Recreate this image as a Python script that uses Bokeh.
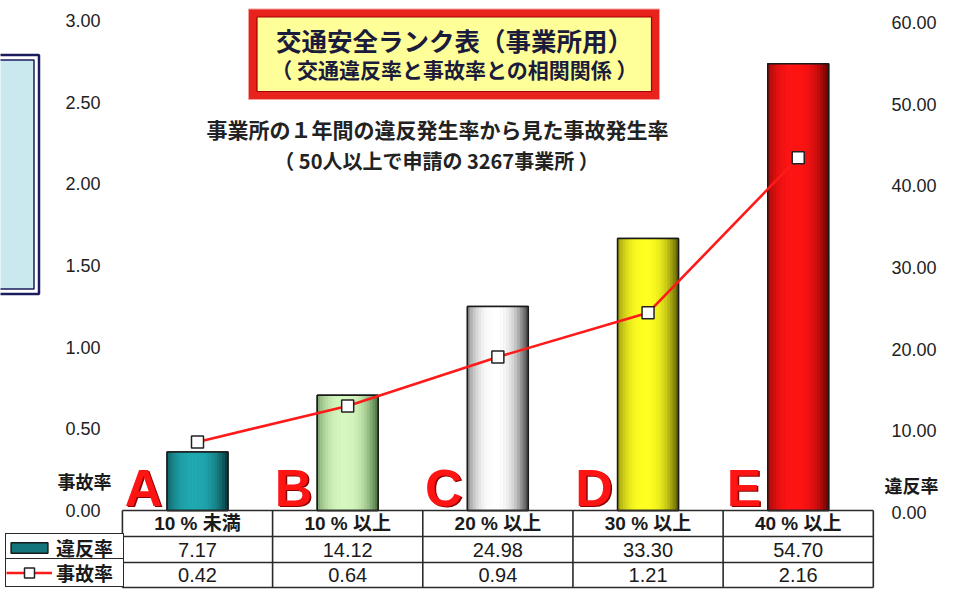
import numpy as np
from bokeh.plotting import figure
from bokeh.models import Range1d, Legend, LegendItem
from bokeh.core.properties import value
from bokeh.embed import file_html
from bokeh.resources import INLINE

# ---------------- data ----------------
ranks = ["A", "B", "C", "D", "E"]
categories = ["10 % 未満", "10 % 以上", "20 % 以上", "30 % 以上", "40 % 以上"]
violation_rate = [7.17, 14.12, 24.98, 33.30, 54.70]   # 違反率 (right axis, bars)
accident_rate = [0.42, 0.64, 0.94, 1.21, 2.16]       # 事故率 (left axis, line)
left_ticks = [0.0, 0.5, 1.0, 1.5, 2.0, 2.5, 3.0]
right_ticks = [0, 10, 20, 30, 40, 50, 60]
bar_light = ["#20a9b1", "#d6f8c0", "#ffffff", "#ffff22", "#ff1414"]
bar_mid = ["#12767c", "#9fd486", "#c8c8c8", "#d8d800", "#d00000"]
bar_dark = ["#052a2c", "#35622a", "#2c2c2c", "#484800", "#560000"]

title1 = "交通安全ランク表（事業所用）"
title2 = "（ 交通違反率と事故率との相関関係 ）"
sub1 = "事業所の１年間の違反発生率から見た事故発生率"
sub2 = "（ 50人以上で申請の 3267事業所 ）"

JP = "Noto Sans CJK JP"
LAT = "Liberation Sans"
MIX = "Liberation Sans, Noto Sans CJK JP"

# ---------------- geometry (picture px -> data) ----------------
W, H = 949, 589
X_C0, X_STEP = 197.0, 150.18        # px x of first category centre, spacing
Y_ZERO, Y_PX = 510.0, 490.0 / 3.0   # px y of value 0, px per left-axis unit
RIGHT_SCALE = 20.0                  # right axis = left axis * 20


def px(x):
    return (x - X_C0) / X_STEP


def py(y):
    return (Y_ZERO - y) / Y_PX


x0, x1 = px(0), px(W)
y0, y1 = py(H), py(0)

p = figure(width=W, height=H, output_backend="svg", toolbar_location=None,
           x_range=Range1d(x0, x1), y_range=Range1d(y0, y1),
           x_axis_location=None, y_axis_location=None,
           min_border_left=0, min_border_right=0, min_border_top=0, min_border_bottom=0)
p.grid.visible = False
p.outline_line_color = None
p.background_fill_color = "white"
p.border_fill_color = "white"
p.extra_y_ranges = {"right": Range1d(y0 * RIGHT_SCALE, y1 * RIGHT_SCALE)}

idx = list(range(len(ranks)))
n = len(ranks)

# ---------------- axes tick labels (through the scales) ----------------
p.text(x=[px(100)] * len(left_ticks), y=left_ticks, text=[f"{t:.2f}" for t in left_ticks],
       text_font=value(LAT), text_font_size="18px", text_color="#222222",
       text_align="right", text_baseline="middle")
p.text(x=[px(891)] * len(right_ticks), y=right_ticks, y_range_name="right",
       text=[f"{t:.2f}" for t in right_ticks],
       text_font=value(LAT), text_font_size="18px", text_color="#222222",
       text_align="left", text_baseline="middle", y_offset=2)
p.text(x=[px(111)], y=[py(480)], text=["事故率"], text_font=value(JP), text_font_style="bold",
       text_font_size="18px", text_color="#1a1a1a", text_align="right", text_baseline="middle")
p.text(x=[px(884)], y=[py(484)], text=["違反率"], text_font=value(JP), text_font_style="bold",
       text_font_size="18px", text_color="#1a1a1a", text_align="left", text_baseline="middle")

# ---------------- decorative blue box (cropped at the left edge) ----------------
p.quad(left=[px(-30)], right=[px(38.5)], top=[py(54.5)], bottom=[py(293.5)],
       fill_color="white", line_color="#1c1c5e", line_width=2.5)
p.quad(left=[px(-30)], right=[px(33.5)], top=[py(59.5)], bottom=[py(288.5)],
       fill_color="#c9e9ef", line_color="#1c1c5e", line_width=1.5)

# ---------------- bars (違反率) ----------------
BW = 0.405
bars = p.vbar(x=idx, width=BW, top=violation_rate, bottom=0, y_range_name="right",
              fill_color=bar_mid, line_color="#1a1a1a", line_width=1.5)


def mix(c1, c2, t):
    a = [int(c1[i:i + 2], 16) for i in (1, 3, 5)]
    b = [int(c2[i:i + 2], 16) for i in (1, 3, 5)]
    return "#%02x%02x%02x" % tuple(int(round(a[k] + (b[k] - a[k]) * t)) for k in range(3))


N = 22
sw = BW / N
for k in range(N):
    t = (k + 0.5) / N
    b = max(0.0, 1.0 - (abs(t - 0.45) / 0.57) ** 2.5)
    cols = [mix(d, l, b) for d, l in zip(bar_dark, bar_light)]
    p.vbar(x=[i + (t - 0.5) * BW for i in idx], width=sw * 1.15, top=violation_rate, bottom=0,
           y_range_name="right", fill_color=cols, line_color=None)
p.vbar(x=idx, width=BW, top=violation_rate, bottom=0, y_range_name="right",
       fill_color=None, line_color="#1a1a1a", line_width=1.5)

# ---------------- line (事故率) ----------------
line = p.line(x=idx, y=accident_rate, line_color="#ff1a1a", line_width=2.6)
marks = p.scatter(x=idx, y=accident_rate, marker="square", size=12,
                  fill_color="white", line_color="#222222", line_width=1.5)

# ---------------- rank letters ----------------
LET_Y = py(487)
p.text(x=[i - 0.36 for i in idx], y=[LET_Y] * n, text=ranks, x_offset=1.5, y_offset=1.5,
       text_font=value(LAT), text_font_style="bold", text_font_size="52px",
       text_color="#8a0000", text_align="center", text_baseline="middle")
p.text(x=[i - 0.36 for i in idx], y=[LET_Y] * n, text=ranks,
       text_font=value(LAT), text_font_style="bold", text_font_size="52px",
       text_color="#ff1414", text_align="center", text_baseline="middle")

# ---------------- data table ----------------
rows_y = [510, 536, 562, 587]
hy = [py(r) for r in rows_y]
p.segment(x0=[-0.5] * 4, y0=hy, x1=[n - 0.5] * 4, y1=hy, line_color="#2a2a2a", line_width=1.6)
vx = [i - 0.5 for i in range(n + 1)]
p.segment(x0=vx, y0=[hy[0]] * (n + 1), x1=vx, y1=[hy[-1]] * (n + 1),
          line_color="#2a2a2a", line_width=1.6)

row_c = [py((rows_y[i] + rows_y[i + 1]) / 2) for i in range(3)]
p.text(x=idx, y=[row_c[0]] * n, text=categories, text_font=value(MIX), text_font_style="bold",
       text_font_size="19px", text_color="#1a1a1a", text_align="center", text_baseline="middle")
p.text(x=idx, y=[row_c[1]] * n, text=[f"{v:.2f}" for v in violation_rate], text_font=value(LAT),
       text_font_size="20px", text_color="#1a1a1a", text_align="center", text_baseline="middle")
p.text(x=idx, y=[row_c[2]] * n, text=[f"{v:.2f}" for v in accident_rate], text_font=value(LAT),
       text_font_size="20px", text_color="#1a1a1a", text_align="center", text_baseline="middle")

# legend cells (row labels of the table)
LEG_L = 5
leg_common = dict(border_line_color="#2a2a2a", border_line_width=1.6, border_line_alpha=1,
                  background_fill_color="white", background_fill_alpha=1,
                  padding=0, margin=0, spacing=0, glyph_width=46,
                  label_standoff=4, label_width=67,
                  label_text_font=JP, label_text_font_style="bold", label_text_font_size="19px",
                  label_text_color="#1a1a1a")
leg1 = Legend(items=[LegendItem(label="違反率", renderers=[bars], index=0)],
              location=(LEG_L, H - rows_y[2]), glyph_height=13, label_height=26, **leg_common)
leg2 = Legend(items=[LegendItem(label="事故率", renderers=[line, marks])],
              location=(LEG_L, H - rows_y[3]), glyph_height=25, label_height=25, **leg_common)
p.add_layout(leg1)
p.add_layout(leg2)

# ---------------- title box ----------------
p.quad(left=[px(248)], right=[px(659)], top=[py(8.5)], bottom=[py(99)],
       fill_color="#e8221c", line_color="#f4a0a0", line_width=1)
p.quad(left=[px(256.5)], right=[px(651)], top=[py(16.5)], bottom=[py(91)],
       fill_color="#ffff99", line_color="#a00000", line_width=1.2)
p.text(x=[px(454)], y=[py(39)], text=[title1], text_font=value(JP), text_font_style="bold",
       text_font_size="25.5px", text_color="#1b1b3b", text_align="center", text_baseline="middle")
p.text(x=[px(454)], y=[py(68)], text=[title2], text_font=value(JP), text_font_style="bold",
       text_font_size="21px", text_color="#1b1b3b", text_align="center", text_baseline="middle")
p.text(x=[px(437)], y=[py(128)], text=[sub1], text_font=value(JP), text_font_style="bold",
       text_font_size="21px", text_color="#222222", text_align="center", text_baseline="middle")
p.text(x=[px(436)], y=[py(160)], text=[sub2], text_font=value(JP), text_font_style="bold",
       text_font_size="20px", text_color="#222222", text_align="center", text_baseline="middle")

open("out.html", "w").write(file_html(p, INLINE))
